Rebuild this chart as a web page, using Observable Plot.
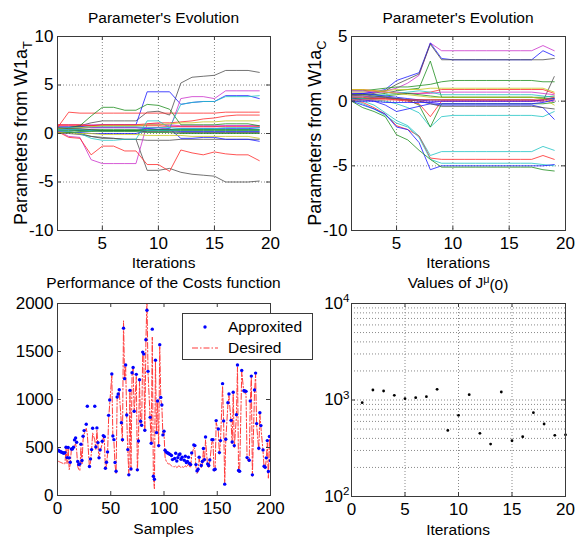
<!DOCTYPE html>
<html>
<head>
<meta charset="utf-8">
<script src="https://cdn.jsdelivr.net/npm/d3@7"></script>
<script src="https://cdn.jsdelivr.net/npm/@observablehq/plot@0.6"></script>
<style>
  body { margin: 0; background: #fff; }
  #fig { position: relative; width: 582px; height: 540px; overflow: hidden; background: #fff; font-family: "Liberation Sans", Arial, sans-serif; }
  .pane { position: absolute; }
  #overlay { position: absolute; left: 0; top: 0; pointer-events: none; }
</style>
</head>
<body>
<div id="fig"></div>
<script>
// ---------------- DATA ----------------
const iterations = [1,2,3,4,5,6,7,8,9,10,11,12,13,14,15,16,17,18,19];

// Top-left: parameters from W1a_T (one array per parameter trace)
const tlColors = ["k","k","k","b","b","b","b","m","m","m","r","r","r","r","g","g","g","c","c","c","y","y","k","g"];
const tlLines = [
  [0.5,0.6,0.8,1.1,1.3,1.3,1.3,1.3,2.2,2.3,1.9,5.2,5.8,5.9,6.0,6.5,6.5,6.5,6.3],
  [0.3,0.2,0.0,-0.3,-0.5,-0.5,-0.6,-0.6,-3.8,-3.8,-3.6,-4.0,-4.2,-4.3,-4.4,-5.0,-5.0,-5.0,-4.9],
  [0.1,0.0,-0.1,-0.3,-0.4,-0.5,-0.6,-0.6,-0.7,-0.7,-0.7,-0.6,-0.6,-0.6,-0.6,-0.6,-0.6,-0.6,-0.6],
  [0.5,0.6,0.7,0.8,0.9,0.9,0.9,0.9,4.3,4.3,4.3,3.0,3.2,3.3,3.3,3.9,3.9,3.9,3.6],
  [0.4,0.4,0.3,0.3,0.3,0.3,0.3,0.3,0.5,0.6,0.5,-0.5,-0.5,-0.4,-0.4,-0.6,-0.6,-0.6,-0.8],
  [0.2,0.1,0.1,0.0,0.0,0.0,0.0,0.0,0.3,0.4,0.4,0.5,0.5,0.5,0.5,0.5,0.5,0.5,0.6],
  [0.7,0.7,0.7,0.6,0.6,0.6,0.6,0.6,0.5,0.4,0.3,0.2,0.2,0.2,0.2,0.2,0.2,0.2,0.2],
  [0.3,-0.3,-0.4,-2.7,-3.1,-3.1,-3.1,-3.1,1.0,1.0,0.8,0.7,0.7,0.7,0.7,0.8,0.8,0.8,0.8],
  [0.6,0.6,0.6,0.6,0.6,0.6,0.6,0.6,0.6,0.6,0.4,3.6,3.8,3.8,3.6,4.4,4.4,4.4,4.4],
  [0.9,0.9,0.9,0.9,0.9,0.9,0.9,0.9,0.9,0.9,0.9,0.8,0.8,0.8,0.8,0.8,0.8,0.8,0.8],
  [0.6,2.2,2.1,2.1,2.1,2.1,2.1,2.1,2.1,2.1,2.1,2.1,2.1,2.1,2.1,2.2,2.2,2.2,2.2],
  [0.8,0.8,0.8,0.8,0.9,0.9,0.9,0.9,1.0,1.1,1.1,1.2,1.3,1.5,1.6,1.8,1.9,1.9,1.9],
  [0.2,-0.4,-0.5,-2.2,-1.3,-1.3,-1.8,-1.8,-3.2,-3.2,-3.9,-1.7,-2.0,-2.2,-1.9,-2.1,-2.2,-2.2,-2.8],
  [0.9,0.9,0.9,0.8,0.8,0.8,0.8,0.8,0.8,0.8,0.7,0.7,0.7,0.7,0.7,0.7,0.7,0.7,0.7],
  [0.4,0.6,0.8,1.8,2.7,2.7,2.4,2.4,3.0,2.9,2.5,0.9,0.9,0.9,0.9,1.0,1.0,1.0,0.8],
  [0.3,0.3,0.3,0.3,0.2,0.2,0.2,0.2,0.1,0.1,0.1,0.0,0.0,0.0,0.0,0.0,0.0,0.0,0.0],
  [0.5,0.5,0.4,0.4,0.4,0.4,0.4,0.4,0.3,0.3,0.3,0.3,0.3,0.3,0.3,0.3,0.3,0.3,0.3],
  [0.3,0.2,0.0,-0.5,-0.7,-0.7,-0.6,-0.6,1.3,1.3,0.6,3.0,3.2,3.3,3.3,3.8,3.8,3.8,3.9],
  [0.4,0.4,0.4,0.3,0.3,0.3,0.3,0.3,0.3,0.3,0.3,0.4,0.4,0.4,0.4,0.4,0.4,0.4,0.4],
  [0.6,0.6,0.6,0.7,0.7,0.7,0.7,0.7,0.6,0.6,0.6,0.5,0.5,0.5,0.5,0.6,0.6,0.6,0.6],
  [0.1,0.1,0.0,0.0,-0.1,-0.1,-0.1,-0.1,-0.2,-0.2,-0.2,-0.2,-0.3,-0.3,-0.3,-0.3,-0.3,-0.3,-0.5],
  [0.5,0.5,0.6,0.7,0.8,0.8,0.8,0.8,0.9,0.9,1.0,1.1,1.1,1.2,1.2,1.3,1.3,1.3,1.3],
  [0.6,0.5,0.5,0.4,0.3,0.3,0.3,0.3,0.2,0.2,0.2,0.1,0.1,0.1,0.1,0.1,0.1,0.1,0.1],
  [0.0,0.1,0.2,0.2,0.3,0.3,0.3,0.3,0.4,0.4,0.4,0.4,0.4,0.4,0.4,0.4,0.4,0.4,0.4]
];

// Top-right: parameters from W1a_C
const trColors = ["m","b","k","g","g","k","y","r","m","c","g","c","g","r","b","m","b","c","r","c","b","g","k","y","r","b"];
const trLines = [
  [0.6,0.6,0.7,0.8,1.0,1.4,2.0,4.5,3.9,3.9,3.9,3.9,3.9,3.9,3.9,3.9,3.9,4.3,3.9],
  [0.5,0.6,0.7,0.9,1.6,1.9,2.2,4.5,3.3,3.2,3.2,3.2,3.2,3.2,3.2,3.2,3.2,3.9,3.5],
  [0.4,0.5,0.6,0.8,1.3,1.7,2.1,4.4,3.2,3.2,3.2,3.2,3.2,3.2,3.2,3.2,3.2,3.2,3.3],
  [0.5,0.5,0.5,0.6,0.8,0.9,1.0,3.1,0.3,0.3,0.3,0.3,0.3,0.3,0.3,0.3,0.3,0.3,0.4],
  [0.8,0.8,0.9,1.0,1.1,1.1,1.2,1.3,1.5,1.6,1.6,1.6,1.6,1.6,1.6,1.6,1.6,1.5,1.5],
  [0.2,0.2,0.2,0.2,0.2,0.1,0.1,0.1,0.1,0.1,0.1,0.1,0.1,0.1,0.1,0.1,0.1,0.0,1.9],
  [0.7,0.7,0.8,0.8,0.9,0.9,0.9,1.0,1.0,1.0,1.0,1.0,1.0,1.0,1.0,1.0,1.0,1.0,0.7],
  [0.9,0.9,0.8,0.7,0.6,0.6,0.6,0.7,0.9,0.9,0.9,0.9,0.9,0.9,0.9,0.9,0.9,0.9,0.6],
  [0.8,0.8,0.7,0.7,0.7,0.6,0.6,0.6,0.7,0.7,0.7,0.7,0.7,0.7,0.7,0.7,0.7,0.6,0.5],
  [0.3,0.3,0.4,0.5,0.6,0.7,0.8,0.7,0.5,0.5,0.5,0.5,0.5,0.5,0.5,0.5,0.5,0.4,0.3],
  [0.2,0.2,0.3,0.4,0.5,0.6,0.5,0.4,0.3,0.3,0.3,0.3,0.3,0.3,0.3,0.3,0.3,0.2,0.2],
  [0.3,0.2,0.1,0.0,-0.2,-0.5,-0.9,-2.0,-1.2,-1.1,-1.1,-1.1,-1.1,-1.1,-1.1,-1.1,-1.1,-1.2,-0.8],
  [0.4,0.4,0.3,0.3,0.2,0.1,-0.3,-2.0,-0.2,-0.2,-0.2,-0.2,-0.2,-0.2,-0.2,-0.2,-0.2,-0.2,-0.1],
  [0.3,0.3,0.2,0.2,0.1,0.0,-0.2,-1.2,0.0,0.0,0.0,0.0,0.0,0.0,0.0,0.0,0.0,0.1,0.3],
  [0.2,0.1,0.0,-0.3,-0.8,-0.6,-0.4,-0.2,-0.3,-0.3,-0.3,-0.3,-0.3,-0.3,-0.3,-0.3,-0.3,-0.5,-1.4],
  [0.4,0.4,0.3,0.3,0.2,0.1,0.0,-0.1,0.0,0.0,0.0,0.0,0.0,0.0,0.0,0.0,0.0,0.0,0.0],
  [0.6,0.6,0.5,0.4,0.3,0.2,0.1,0.0,0.0,0.0,0.0,0.0,0.0,0.0,0.0,0.0,0.0,0.1,0.2],
  [0.2,0.0,-0.3,-0.9,-1.5,-1.9,-2.7,-4.2,-3.9,-3.9,-3.9,-3.9,-3.9,-3.9,-3.9,-3.9,-3.9,-3.5,-3.8],
  [0.1,-0.1,-0.5,-1.0,-1.9,-2.2,-2.7,-4.4,-4.5,-4.5,-4.5,-4.5,-4.5,-4.5,-4.5,-4.5,-4.5,-4.2,-4.5],
  [0.1,-0.2,-0.6,-1.1,-1.7,-2.0,-2.8,-4.5,-4.8,-4.8,-4.8,-4.8,-4.8,-4.8,-4.8,-4.8,-4.8,-4.9,-5.0],
  [0.0,-0.3,-0.6,-1.0,-2.0,-2.2,-3.2,-5.3,-5.0,-5.0,-5.0,-5.0,-5.0,-5.0,-5.0,-5.0,-5.0,-5.0,-4.9],
  [0.0,-0.5,-0.8,-1.2,-2.6,-3.0,-3.8,-4.5,-5.1,-5.1,-5.1,-5.1,-5.1,-5.1,-5.1,-5.1,-5.1,-5.3,-5.4],
  [0.5,0.5,0.4,0.3,0.2,0.1,0.0,-0.2,-0.4,-0.4,-0.4,-0.4,-0.4,-0.4,-0.4,-0.4,-0.4,-0.5,-0.6],
  [0.9,0.9,0.8,0.7,0.6,0.5,0.4,0.3,0.3,0.3,0.3,0.3,0.3,0.3,0.3,0.3,0.3,0.2,-0.3],
  [0.1,0.1,0.1,0.1,0.1,0.1,0.1,0.1,0.1,0.1,0.1,0.1,0.1,0.1,0.1,0.1,0.1,0.1,0.1],
  [0.0,0.0,0.0,-0.1,-0.1,-0.1,-0.1,-0.1,-0.2,-0.2,-0.2,-0.2,-0.2,-0.2,-0.2,-0.2,-0.2,-0.1,0.1]
];

// Bottom-left: performance of the costs function
const costSamples = [
  0,1,2,3,4,5,6,7,8,9,
  10,11,12,13,14,15,16,17,18,19,
  20,21,22,23,24,25,27,28,30,31,
  32,33,35,36,37,38,39,40,42,43,
  44,45,46,47,48,49,51,52,53,54,
  55,56,57,58,60,61,62,63,64,65,
  66,67,68,69,70,71,72,74,75,76,
  77,78,79,80,81,82,83,84,85,87,
  88,89,90,91,92,93,94,95,96,97,
  98,99,100,101,102,103,104,105,106,107,
  108,110,111,112,113,114,115,116,117,119,
  120,121,122,123,124,125,126,128,129,130,
  131,132,133,135,136,137,138,139,141,142,
  143,145,146,147,148,149,151,152,153,155,
  156,157,158,160,161,163,164,165,166,168,
  169,170,171,173,175,176,177,178,180,181,
  182,183,185,186,187,189,190,191,193,194,
  195,196,197,198,199,200];
const approxValues = [
  475,468,461,455,450,445,440,447,503,395,
  500,392,347,485,485,503,579,600,555,354,
  322,329,534,364,617,676,742,929,302,381,
  478,700,929,506,704,551,392,475,565,624,
  613,284,347,454,835,995,1265,620,582,343,
  253,1026,1057,1102,759,582,1743,1217,1359,839,
  478,215,1095,277,1279,1334,877,1262,267,568,
  1206,773,731,1494,1473,679,1622,1930,1293,814,
  544,1733,201,170,1410,655,984,520,1570,1022,
  943,631,669,471,454,445,440,433,426,416,
  374,385,440,360,395,423,433,378,399,367,
  409,343,354,399,333,322,444,527,520,322,
  256,274,399,312,354,489,374,610,329,312,
  371,582,582,267,274,780,693,447,572,1165,
  777,118,586,967,1057,783,558,1075,520,842,
  1359,260,253,1303,1092,1088,1085,395,367,984,
  1244,215,1099,1275,749,492,863,728,475,305,
  295,392,572,250,614,364];
const desiredValues = [
  360,355,350,345,340,335,330,330,500,330,
  490,270,330,480,470,500,520,540,470,300,
  270,260,500,330,580,640,700,640,290,350,
  470,650,580,480,680,520,380,460,540,600,
  580,270,320,430,800,950,1250,600,560,320,
  230,1000,1040,1080,740,560,1820,1200,1340,820,
  460,220,1080,260,1250,1320,860,1240,250,550,
  1190,760,720,1480,1460,660,1600,2050,1280,800,
  530,1650,190,70,1400,640,970,500,1550,1000,
  930,620,650,400,360,340,330,330,320,310,
  300,300,310,290,300,310,300,290,300,290,
  310,300,310,330,300,290,420,500,480,290,
  230,250,380,290,330,470,350,580,300,290,
  350,560,560,250,260,760,670,430,550,1140,
  760,120,570,950,1040,760,540,1060,500,820,
  1340,240,240,1290,1070,1070,1060,380,350,960,
  1230,200,1080,1260,730,470,850,710,460,290,
  280,370,550,180,590,340];

// Bottom-right: values of J^mu(0)
const jIterations = [1,2,3,4,5,6,7,8,9,10,11,12,13,14,15,16,17,18,19,20];
const jValues = [938,1270,1240,1118,1032,1057,1083,1290,484,693,1136,451,349,1211,378,416,739,564,430,436];

// Tick values
const iterTicks = [5,10,15,20];
const tlYTicks = [-10,-5,0,5,10];
const trYTicks = [-10,-5,0,5];
const costXTicks = [0,50,100,150,200];
const costYTicks = [0,500,1000,1500,2000];
const jXTicks = [0,5,10,15,20];
const jYTicks = [100,1000,10000];
const jYGrid = [200,300,400,500,600,700,800,900,1000,2000,3000,4000,5000,6000,7000,8000,9000];

// ---------------- STYLE ----------------
const FONT = "Liberation Sans, Arial, sans-serif";
const FS = "15.5px";      // titles and x labels
const FS_TICK = "17px";   // tick labels
const FS_YLAB = "18px";   // y labels
const AX = "#3a3a3a";
const GRID = "#8a8a8a";
const PAL = {b:"#1a1aff", g:"#1f8f1f", r:"#ff2a2a", c:"#20c4c4", m:"#cc33cc", y:"#c8c820", k:"#505050"};
const baseStyle = {fontFamily: FONT, fontSize: FS_TICK, color: "#000", background: "transparent", overflow: "visible"};

function innerTicks(xt, yt, fw, fh, L = 4) {
  return [
    Plot.tickX(xt, {x: d => d, stroke: AX, insetTop: fh - L}),
    Plot.tickX(xt, {x: d => d, stroke: AX, insetBottom: fh - L}),
    Plot.tickY(yt, {y: d => d, stroke: AX, insetRight: fw - L}),
    Plot.tickY(yt, {y: d => d, stroke: AX, insetLeft: fw - L})
  ];
}

function paramPlot(lines, colors, yDomain, yTicks, yGrid, mLeft, mRight) {
  const rows = lines.flatMap((vals, s) => vals.map((v, j) => ({it: iterations[j], v, s})));
  const mTop = 36, mBottom = 40, W = 291, H = 270;
  const fw = W - mLeft - mRight, fh = H - mTop - mBottom;
  return Plot.plot({
    width: W, height: H, marginLeft: mLeft, marginRight: mRight, marginTop: mTop, marginBottom: mBottom,
    style: baseStyle,
    x: {domain: [1, 20]},
    y: {domain: yDomain},
    color: {type: "identity"},
    marks: [
      Plot.ruleX([5, 10, 15], {stroke: GRID, strokeDasharray: "1,2"}),
      Plot.ruleY(yGrid, {stroke: GRID, strokeDasharray: "1,2"}),
      Plot.line(rows, {x: "it", y: "v", z: "s", stroke: d => PAL[colors[d.s]], strokeWidth: 1, strokeOpacity: 0.8, clip: true}),
      ...innerTicks(iterTicks, yTicks, fw, fh),
      Plot.frame({stroke: AX}),
      Plot.axisX({ticks: iterTicks, tickSize: 0, tickPadding: 6, tickFormat: d => String(d), label: null}),
      Plot.axisY({ticks: yTicks, tickSize: 0, tickPadding: 4, tickFormat: d => String(d), label: null})
    ]
  });
}

const fig = document.getElementById("fig");
function place(el, left, top) {
  el.classList.add("pane");
  el.style.left = left + "px";
  el.style.top = top + "px";
  fig.appendChild(el);
}

// Top-left
place(paramPlot(tlLines, tlColors, [-10, 10], tlYTicks, [-5, 0, 5], 57, 21), 0, 0);
// Top-right
place(paramPlot(trLines, trColors, [-10, 5], trYTicks, [-5, 0], 60, 17), 291, 0);

// Bottom-left
(function () {
  const mL = 57, mR = 21, mT = 33, mB = 45, W = 291, H = 270;
  const fw = W - mL - mR, fh = H - mT - mB;
  const approx = costSamples.map((s, i) => ({s, v: approxValues[i]}));
  const desired = costSamples.map((s, i) => ({s, v: desiredValues[i]}));
  const p = Plot.plot({
    width: W, height: H, marginLeft: mL, marginRight: mR, marginTop: mT, marginBottom: mB,
    style: baseStyle,
    x: {domain: [0, 200]},
    y: {domain: [0, 2000]},
    marks: [
      Plot.line(desired, {x: "s", y: "v", stroke: "#ff3b3b", strokeWidth: 1, strokeDasharray: "6,2,1.5,2", clip: true}),
      Plot.dot(approx, {x: "s", y: "v", r: 1.7, fill: "#0000ff", stroke: "none", clip: true}),
      ...innerTicks(costXTicks, costYTicks, fw, fh),
      Plot.frame({stroke: AX}),
      Plot.axisX({ticks: costXTicks, tickSize: 0, tickPadding: 6, tickFormat: d => String(d), label: null}),
      Plot.axisY({ticks: costYTicks, tickSize: 0, tickPadding: 4, tickFormat: d => String(d), label: null})
    ]
  });
  place(p, 0, 270);
})();

// Bottom-right
(function () {
  const mL = 60, mR = 17, mT = 33, mB = 44, W = 291, H = 270;
  const fw = W - mL - mR, fh = H - mT - mB;
  const rows = jIterations.map((it, i) => ({it, v: jValues[i]}));
  const p = Plot.plot({
    width: W, height: H, marginLeft: mL, marginRight: mR, marginTop: mT, marginBottom: mB,
    style: baseStyle,
    x: {domain: [0, 20]},
    y: {type: "log", domain: [100, 10000]},
    marks: [
      Plot.ruleX([5, 10, 15], {stroke: GRID, strokeDasharray: "1,2"}),
      Plot.ruleY(jYGrid, {stroke: GRID, strokeDasharray: "1,2"}),
      Plot.dot(rows, {x: "it", y: "v", r: 1.4, fill: "#000", stroke: "none"}),
      ...innerTicks(jXTicks, jYTicks, fw, fh),
      Plot.frame({stroke: AX}),
      Plot.axisX({ticks: jXTicks, tickSize: 0, tickPadding: 6, tickFormat: d => String(d), label: null}),
      Plot.axisY({ticks: jYTicks, tickSize: 0, tickPadding: 2, tickFormat: d => String(Math.round(Math.log10(d))), label: null})
    ]
  });
  d3.select(p).selectAll('g[aria-label="y-axis tick label"] text').each(function () {
    const e = this.textContent;
    const t = d3.select(this);
    t.text("10");
    t.append("tspan").attr("dy", "-0.6em").attr("font-size", "0.68em").text(e);
  });
  place(p, 291, 270);
})();

// ---------------- TEXT OVERLAY ----------------
const ov = d3.select(fig).append("svg").attr("id", "overlay")
  .attr("width", 582).attr("height", 540)
  .style("font-family", FONT).style("font-size", FS);

function label(x, y, txt, rot, size) {
  const t = ov.append("text").attr("text-anchor", "middle").attr("fill", "#000")
    .attr("transform", `translate(${x},${y})` + (rot ? " rotate(-90)" : ""));
  if (size) t.style("font-size", size);
  t.text(txt);
  return t;
}
label(163.5, 23, "Parameter's Evolution");
label(458, 23, "Parameter's Evolution");
label(163.5, 268, "Iterations");
label(458, 268, "Iterations");
label(27, 133, "Parameters from W1a", true, FS_YLAB).append("tspan").attr("dy", "0.35em").attr("font-size", "0.72em").text("T");
label(321, 133, "Parameters from W1a", true, FS_YLAB).append("tspan").attr("dy", "0.35em").attr("font-size", "0.72em").text("C");
label(163.5, 288, "Performance of the Costs function");
label(163.5, 534, "Samples");
const jt = label(458, 288, "Values of J");
jt.append("tspan").attr("dy", "-0.45em").attr("font-size", "0.7em").text("\u03BC");
jt.append("tspan").attr("dy", "0.45em").text("(0)");
label(458, 535, "Iterations");

// Legend (bottom-left)
ov.append("rect").attr("x", 182.5).attr("y", 313.5).attr("width", 130).attr("height", 46)
  .attr("fill", "#fff").attr("stroke", AX);
ov.append("circle").attr("cx", 205).attr("cy", 327).attr("r", 1.7).attr("fill", "#0000ff");
ov.append("line").attr("x1", 192).attr("x2", 218).attr("y1", 348).attr("y2", 348)
  .attr("stroke", "#ff3b3b").attr("stroke-dasharray", "6,2,1.5,2");
ov.append("text").attr("x", 228).attr("y", 332).text("Approxited");
ov.append("text").attr("x", 228).attr("y", 353).text("Desired");
</script>
</body>
</html>
